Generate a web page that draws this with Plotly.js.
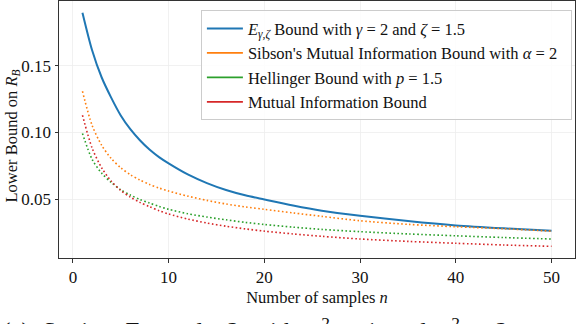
<!DOCTYPE html>
<html>
<head>
<meta charset="utf-8">
<script src="https://cdn.plot.ly/plotly-3.0.1.min.js"></script>
<style>
  html, body { margin: 0; padding: 0; background: #fff; }
  #chart { width: 576px; height: 324px; }
</style>
</head>
<body>
<div id="chart"></div>
<script>
/* Data */
var samples = [1, 2, 3, 4, 5, 6, 7, 8, 9, 10, 12, 14, 16, 18, 20, 23, 26, 30, 35, 40, 45, 50];
var eBound = [0.190, 0.162, 0.1415, 0.1262, 0.1128, 0.1025, 0.0942, 0.0872, 0.0815, 0.0768,
  0.0685, 0.0620, 0.0568, 0.0528, 0.0497, 0.0452, 0.0413, 0.0375, 0.0335, 0.0302, 0.0280, 0.0262];
var sibsonBound = [0.131, 0.1055, 0.0905, 0.0805, 0.0735, 0.0683, 0.0643, 0.0610, 0.0583, 0.0560,
  0.0522, 0.0490, 0.0463, 0.0441, 0.0423, 0.0396, 0.0370, 0.0337, 0.0310, 0.0292, 0.0277, 0.0259];
var hellingerBound = [0.0993, 0.0800, 0.0695, 0.0625, 0.0570, 0.0530, 0.0497, 0.0470, 0.0445, 0.0423,
  0.0390, 0.0365, 0.0344, 0.0325, 0.0309, 0.0289, 0.0272, 0.0255, 0.0238, 0.0224, 0.0211, 0.0200];
var miBound = [0.113, 0.0885, 0.0735, 0.0635, 0.0565, 0.0515, 0.0475, 0.0443, 0.0413, 0.0388,
  0.0350, 0.0320, 0.0296, 0.0276, 0.0259, 0.0238, 0.0220, 0.0200, 0.0182, 0.0168, 0.0155, 0.0145];

var seriesNames = [
  '<i>E</i><sub><i>γ,ζ</i></sub> Bound with <i>γ</i> = 2 and <i>ζ</i> = 1.5',
  'Sibson\'s Mutual Information Bound with <i>α</i> = 2&nbsp;&nbsp;',
  'Hellinger Bound with <i>p</i> = 1.5',
  'Mutual Information Bound'
];
var colors = ['#1f77b4', '#ff7f0e', '#2ca02c', '#d62728'];
var values = [eBound, sibsonBound, hellingerBound, miBound];

var serif = 'Liberation Serif, Times New Roman, serif';

var data = [];
// curves
values.forEach(function (v, i) {
  data.push({
    x: samples, y: v, type: 'scatter', mode: 'lines',
    line: { color: colors[i], width: i === 0 ? 2 : 1.6, shape: 'spline', smoothing: 0.8,
            dash: i === 0 ? 'solid' : '1.6px,2.4px' },
    showlegend: false, hoverinfo: 'skip'
  });
});
// legend entries drawn with solid handles, as in the figure
seriesNames.forEach(function (name, i) {
  data.push({
    x: [null], y: [null], type: 'scatter', mode: 'lines', name: name,
    line: { color: colors[i], width: i === 0 ? 2.2 : 1.8 }
  });
});

var layout = {
  width: 576, height: 324,
  margin: { l: 59, r: 1, t: 1, b: 66 },
  paper_bgcolor: '#fff', plot_bgcolor: '#fff',
  font: { family: serif, size: 16, color: '#111' },
  xaxis: {
    showline: true, mirror: true, linecolor: '#333', linewidth: 1,
    ticks: 'outside', ticklen: 3.5, tickwidth: 1, tickcolor: '#333',
    showgrid: true, gridcolor: '#ededed', gridwidth: 0.8, zeroline: false,
    tickfont: { family: serif, size: 17, color: '#111' },
    range: [-1.45, 52.45], tick0: 0, dtick: 10,
    title: { text: 'Number of samples <i>n</i>', font: { family: serif, size: 16.5 }, standoff: 5 }
  },
  yaxis: {
    showline: true, mirror: true, linecolor: '#333', linewidth: 1,
    ticks: 'outside', ticklen: 3.5, tickwidth: 1, tickcolor: '#333',
    showgrid: true, gridcolor: '#ededed', gridwidth: 0.8, zeroline: false,
    tickfont: { family: serif, size: 17, color: '#111' },
    range: [0.005725, 0.198775], tickvals: [0.05, 0.10, 0.15], tickformat: '.2f'
  },
  showlegend: true,
  legend: {
    x: 0.994, y: 0.964, xanchor: 'right', yanchor: 'top',
    bgcolor: 'rgba(255,255,255,0.85)', bordercolor: '#cccccc', borderwidth: 1,
    font: { family: serif, size: 16.5, color: '#111' },
    itemwidth: 36, tracegroupgap: 0
  },
  annotations: [{
    // y-axis label
    xref: 'paper', yref: 'paper', x: (11 - 59) / 516, y: (258 - 136.5) / 257,
    xanchor: 'center', yanchor: 'middle', showarrow: false, textangle: -90,
    text: 'Lower Bound on <i>R</i><sub><i>B</i></sub>',
    font: { family: serif, size: 16.5, color: '#111' }
  }, {
    // figure caption, cut by the bottom edge
    xref: 'paper', yref: 'paper', x: -59 / 516, y: (258 - 311) / 257,
    xanchor: 'left', yanchor: 'top', showarrow: false,
    text: '(a)&nbsp; Setting&nbsp; Example&nbsp; 2&nbsp; with&nbsp; <i>σ</i><sup>2</sup><sub>1</sub>&nbsp;=&nbsp;1&nbsp; and&nbsp; <i>σ</i><sup>2</sup><sub>2</sub>&nbsp;=&nbsp;2',
    font: { family: serif, size: 25, color: '#111' }
  }]
};

Plotly.newPlot('chart', data, layout, { staticPlot: true });
</script>
</body>
</html>
